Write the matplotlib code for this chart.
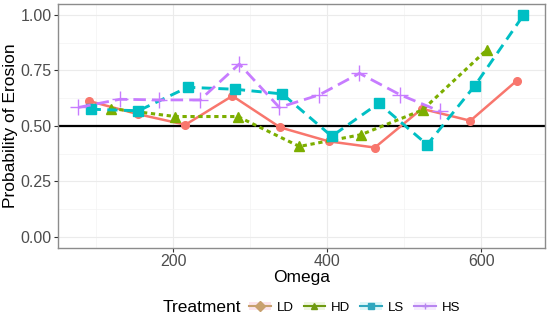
import matplotlib.pyplot as plt
from matplotlib.lines import Line2D
from matplotlib.patches import Patch
from matplotlib.ticker import MultipleLocator

plt.rcParams['font.family'] = ['Liberation Sans', 'DejaVu Sans']

# data
ld_x = [91, 154, 216, 277, 339, 402, 462, 523, 586, 646]
ld_y = [0.612, 0.553, 0.505, 0.635, 0.493, 0.430, 0.402, 0.577, 0.523, 0.703]

hd_x = [120, 203, 284, 364, 444, 524, 607]
hd_y = [0.578, 0.542, 0.542, 0.407, 0.460, 0.572, 0.842]

ls_x = [93, 155, 219, 281, 342, 406, 467, 530, 592, 655]
ls_y = [0.575, 0.568, 0.674, 0.665, 0.644, 0.453, 0.602, 0.415, 0.682, 1.000]

hs_x = [77, 131, 182, 235, 286, 338, 390, 442, 495, 547]
hs_y = [0.583, 0.620, 0.617, 0.617, 0.779, 0.583, 0.640, 0.737, 0.640, 0.565]

treatments = ['LD', 'HD', 'LS', 'HS']

fig = plt.figure(figsize=(5.5, 3.2), dpi=100)
ax = fig.add_axes([0.1055, 0.226, 0.8855, 0.7615])

ax.axhline(0.5, color='black', lw=1.6, zorder=2)

ax.plot(ld_x, ld_y, color='#F8766D', lw=1.8, ls='-', marker='o', ms=5.5, zorder=3)
ax.plot(hd_x, hd_y, color='#7CAE00', lw=2.2, ls=(0, (1.4, 1.2)), marker='^', ms=7, zorder=3)
ax.plot(ls_x, ls_y, color='#00BFC4', lw=2.1, ls=(0, (3.5, 2.2)), marker='s', ms=6.5, zorder=3)
ax.plot(hs_x, hs_y, color='#C77CFF', lw=2.0, ls=(0, (4.5, 2.2)), marker='+', ms=11, mew=1.0, zorder=3)

ax.set_xlim(50.6, 683)
ax.set_ylim(-0.05, 1.05)
ax.xaxis.set_major_locator(MultipleLocator(200))
ax.xaxis.set_minor_locator(MultipleLocator(100))
ax.yaxis.set_minor_locator(MultipleLocator(0.125))
ax.set_yticks([0, 0.25, 0.5, 0.75, 1.0])
ax.set_yticklabels(['0.00', '0.25', '0.50', '0.75', '1.00'])

ax.grid(which='major', color='#EBEBEB', lw=0.8)
ax.grid(which='minor', color='#F3F3F3', lw=0.5)
ax.set_axisbelow(True)
for s in ax.spines.values():
    s.set_color('#8C8C8C')
    s.set_linewidth(1.0)
ax.tick_params(which='major', length=3, pad=1.5, color='#333333', labelsize=11.5, labelcolor='#4D4D4D')
ax.tick_params(which='minor', length=0)

ax.set_xlabel('Omega', fontsize=12.5, labelpad=1)
ax.set_ylabel('Probability of Erosion', fontsize=12.5, labelpad=2)

# legend with tinted key backgrounds
key_bg = ['#FCE4EC', '#EEF6E0', '#DDF7F8', '#F6ECFF']
key_col = ['#C8A06E', '#6E9A10', '#2FA7BE', '#B886F0']
key_mk = ['D', '^', 's', '+']
handles = []
for bg, col, mk in zip(key_bg, key_col, key_mk):
    handles.append((Patch(facecolor=bg, edgecolor='none'),
                    Line2D([], [], color=col, lw=1.5, marker=mk, ms=5)))
fig.text(163 / 550, 0.038, 'Treatment', fontsize=12.5, va='center', ha='left')
fig.legend(handles, treatments, loc='center left',
           bbox_to_anchor=(249 / 550, 0.038), ncol=4, frameon=False,
           fontsize=9.5, handlelength=1.65, handletextpad=0.45,
           columnspacing=0.75, handleheight=0.6, borderpad=0, borderaxespad=0)

fig.savefig('out.png', dpi=100)
